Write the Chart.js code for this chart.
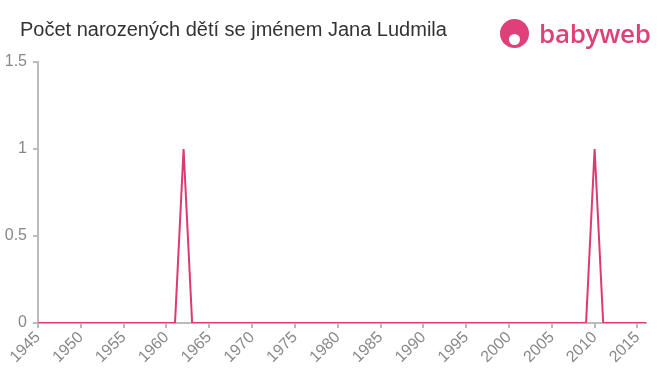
<!DOCTYPE html>
<html>
<head>
<meta charset="utf-8">
<script src="https://cdn.jsdelivr.net/npm/chart.js@4/dist/chart.umd.min.js"></script>
<style>
  body { margin: 0; background: #fff; font-family: "Liberation Sans", Arial, sans-serif; }
  #wrap { position: relative; width: 660px; height: 375px; }
  #title { position: absolute; left: 20px; top: 18px; font-size: 20px; color: #333; white-space: nowrap; }
  #logo { position: absolute; left: 500px; top: 15px; height: 36px; display: flex; align-items: center; }
  #logo .dot { width: 29px; height: 29px; border-radius: 50%; background: #e0407a; position: relative; }
  #logo .dot:after { content: ""; position: absolute; left: 9px; top: 15px; width: 11px; height: 11px; border-radius: 50%; background: #fff; }
  #logo .txt { margin-left: 10px; font-size: 26px; font-weight: 600; color: #e0407a; font-family: "Open Sans", sans-serif; letter-spacing: -0.3px; }
  canvas { position: absolute; left: 0; top: 0; }
</style>
</head>
<body>
<div id="wrap">
  <canvas id="myChart" width="660" height="375"></canvas>
  <div id="title">Počet narozených dětí se jménem Jana Ludmila</div>
  <div id="logo"><div class="dot"></div><div class="txt">babyweb</div></div>
</div>
<script>
// years and counts
const years = [];
for (let y = 1945; y <= 2016; y++) years.push(y);
const peakYears = [1962, 2010];
const peakCounts = [1, 1];
const counts = years.map(y => {
  const i = peakYears.indexOf(y);
  return i >= 0 ? peakCounts[i] : 0;
});
const xTicks = [1945, 1950, 1955, 1960, 1965, 1970, 1975, 1980, 1985, 1990, 1995, 2000, 2005, 2010, 2015];
const yTicks = [0, 0.5, 1, 1.5];

const points = years.map((y, i) => ({ x: y, y: counts[i] }));

var ctx = document.getElementById('myChart').getContext('2d');
var chart = new Chart(ctx, {
  type: 'line',
  data: {
    datasets: [{
      data: points,
      borderColor: '#dd3a6f',
      borderWidth: 2,
      pointRadius: 0,
      tension: 0,
      fill: false
    }]
  },
  options: {
    responsive: false,
    animation: false,
    layout: { padding: { top: 62, right: 14, left: 0, bottom: 0 } },
    plugins: { legend: { display: false }, tooltip: { enabled: false } },
    scales: {
      x: {
        type: 'linear',
        min: 1945,
        max: 2016,
        afterFit: axis => { axis.height = 52; },
        afterBuildTicks: axis => { axis.ticks = xTicks.map(v => ({ value: v })); },
        border: { color: '#bbb', width: 2 },
        grid: { drawOnChartArea: false, drawTicks: true, tickLength: 5, color: '#bbb', lineWidth: 2 },
        ticks: {
          autoSkip: false,
          minRotation: 45,
          maxRotation: 45,
          color: '#888',
          font: { size: 16, family: '"Liberation Sans", Arial, sans-serif' },
          padding: 0,
          callback: v => String(v)
        }
      },
      y: {
        min: 0,
        max: 1.5,
        afterFit: axis => { axis.width = 38; },
        afterBuildTicks: axis => { axis.ticks = yTicks.map(v => ({ value: v })); },
        border: { color: '#bbb', width: 2 },
        grid: { drawOnChartArea: false, drawTicks: true, tickLength: 5, color: '#bbb', lineWidth: 2 },
        ticks: {
          color: '#888',
          font: { size: 16, family: '"Liberation Sans", Arial, sans-serif' },
          padding: 6,
          callback: v => String(v)
        }
      }
    }
  }
});
</script>
</body>
</html>
